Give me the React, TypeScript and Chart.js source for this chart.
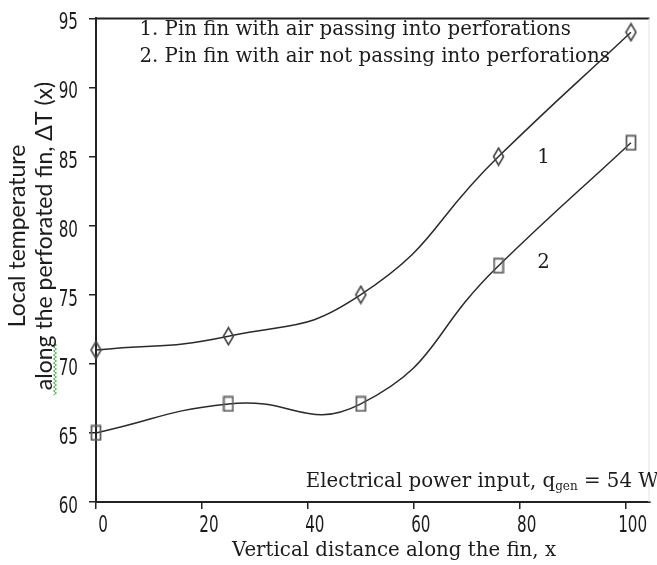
import React, { useEffect, useRef } from "react";
import { Chart, registerables } from "chart.js";

Chart.register(...registerables);

// ---- data ----
const xValues = [0, 25, 50, 76, 101];
const series1 = [71, 72, 75, 85, 94];
const series2 = [65, 67.1, 67.1, 77.1, 86];
const xTickValues = [0, 20, 40, 60, 80, 100];
const yTickValues = [60, 65, 70, 75, 80, 85, 90, 95];
const series1Name = "1. Pin fin with air passing into perforations";
const series2Name = "2. Pin fin with air not passing into perforations";
const xTitle = "Vertical distance along the fin, x";
const yTitle1 = "Local temperature";
const yTitle2 = "along the perforated fin, \u0394T (x)";
const noteMain = "Electrical power input, q";
const noteSub = "gen";
const noteEnd = " = 54 W";

const TICK_FONT = "'DejaVu Sans', sans-serif";
const SERIF = "'DejaVu Serif', 'Liberation Serif', serif";
const SANS = "Lato, 'Liberation Sans', sans-serif";
const TEXT = "#1c1c1c";

function makeDiamond() {
  const c = document.createElement("canvas");
  c.width = 13;
  c.height = 20;
  const g = c.getContext("2d")!;
  g.strokeStyle = "#444";
  g.lineWidth = 1.6;
  g.beginPath();
  g.moveTo(6.5, 1.5);
  g.lineTo(11.5, 10);
  g.lineTo(6.5, 18.5);
  g.lineTo(1.5, 10);
  g.closePath();
  g.stroke();
  return c;
}

function makeSquare() {
  const c = document.createElement("canvas");
  c.width = 12;
  c.height = 17;
  const g = c.getContext("2d")!;
  g.strokeStyle = "#5e5e5e";
  g.lineWidth = 1.8;
  g.strokeRect(1.5, 1.5, 9, 14);
  return c;
}

function condensed(ctx: any, text: string, x: number, y: number, align: string) {
  ctx.save();
  ctx.translate(x, y);
  ctx.scale(0.66, 1);
  ctx.textAlign = align;
  ctx.fillText(text, 0, 0);
  ctx.restore();
}

const annotations = {
  id: "annotations",
  afterDraw(chart: any) {
    const { ctx, chartArea, scales } = chart;
    const xs = scales.x;
    const ys = scales.y;
    ctx.save();
    // top frame line
    ctx.strokeStyle = "#222";
    ctx.lineWidth = 2;
    ctx.beginPath();
    ctx.moveTo(chartArea.left, chartArea.top);
    ctx.lineTo(chartArea.right, chartArea.top);
    ctx.stroke();
    ctx.strokeStyle = "#e2e2e2";
    ctx.lineWidth = 1;
    ctx.beginPath();
    ctx.moveTo(chartArea.right - 0.5, chartArea.top);
    ctx.lineTo(chartArea.right - 0.5, chartArea.bottom);
    ctx.stroke();

    // tick labels (condensed)
    ctx.fillStyle = TEXT;
    ctx.textBaseline = "middle";
    ctx.font = `23px ${TICK_FONT}`;
    xs.ticks.forEach((t: any) => {
      condensed(ctx, String(t.value), xs.getPixelForValue(t.value) + 7, chartArea.bottom + 24, "center");
    });
    ys.ticks.forEach((t: any) => {
      condensed(ctx, String(t.value), 78, ys.getPixelForValue(t.value) + 5, "right");
    });

    ctx.textAlign = "left";
    ctx.font = `19.8px ${SERIF}`;
    ctx.fillText(series1Name, xs.getPixelForValue(8.2), ys.getPixelForValue(94.2));
    ctx.fillText(series2Name, xs.getPixelForValue(8.2), ys.getPixelForValue(92.2));

    ctx.fillText("1", xs.getPixelForValue(83.3), ys.getPixelForValue(84.9));
    ctx.fillText("2", xs.getPixelForValue(83.3), ys.getPixelForValue(77.3));

    // electrical power note
    let px = xs.getPixelForValue(39.6);
    const py = ys.getPixelForValue(61.45);
    ctx.font = `19.8px ${SERIF}`;
    ctx.fillText(noteMain, px, py);
    px += ctx.measureText(noteMain).width;
    ctx.font = `12px ${SERIF}`;
    ctx.fillText(noteSub, px, py + 5);
    px += ctx.measureText(noteSub).width;
    ctx.font = `19.8px ${SERIF}`;
    ctx.fillText(noteEnd, px, py);

    // x title
    ctx.textAlign = "center";
    ctx.font = `19.8px ${SERIF}`;
    ctx.fillText(xTitle, 394, 551);

    // spell-check squiggle under "along"
    ctx.strokeStyle = "#3cb043";
    ctx.lineWidth = 1;
    ctx.beginPath();
    for (let yy = 343, k = 0; yy <= 395; yy += 2, k++) {
      const xx = 55 + (k % 2 === 0 ? -1.5 : 1.5);
      if (k === 0) ctx.moveTo(xx, yy);
      else ctx.lineTo(xx, yy);
    }
    ctx.stroke();

    // y titles
    ctx.fillStyle = TEXT;
    ctx.font = `23px ${SANS}`;
    ctx.translate(18, 236);
    ctx.rotate(-Math.PI / 2);
    ctx.fillText(yTitle1, 0, 0);
    ctx.fillText(yTitle2, 0, 27);
    ctx.restore();
  },
};

export default function App() {
  const ref = useRef<HTMLCanvasElement | null>(null);
  useEffect(() => {
    if (!ref.current) return;
    const diamond = makeDiamond();
    const square = makeSquare();
    const chart = new Chart(ref.current, {
      type: "line",
      data: {
        datasets: [
          {
            label: series1Name,
            data: xValues.map((x, i) => ({ x, y: series1[i] })),
            borderColor: "#2a2a2a",
            borderWidth: 1.5,
            tension: 0.5,
            pointStyle: diamond as any,
            pointRadius: 6,
            clip: false as any,
          },
          {
            label: series2Name,
            data: xValues.map((x, i) => ({ x, y: series2[i] })),
            borderColor: "#2a2a2a",
            borderWidth: 1.5,
            tension: 0.5,
            pointStyle: square as any,
            pointRadius: 6,
            clip: false as any,
          },
        ],
      },
      options: {
        animation: false,
        responsive: true,
        maintainAspectRatio: false,
        layout: { padding: { top: 17, right: 2, left: 0, bottom: 0 } },
        plugins: { legend: { display: false }, tooltip: { enabled: false } },
        scales: {
          x: {
            type: "linear",
            min: 0,
            max: 104.5,
            afterBuildTicks(s: any) {
              s.ticks = xTickValues.map((v) => ({ value: v }));
            },
            ticks: {
              maxRotation: 0,
              padding: 3,
              color: "rgba(0,0,0,0)",
              font: { family: TICK_FONT, size: 14 },
            },
            grid: { drawOnChartArea: false, tickLength: 7, color: "#222", lineWidth: 1.5 },
            border: { color: "#222", width: 2 },
            afterFit(s: any) {
              s.height = 63;
            },
          },
          y: {
            type: "linear",
            min: 60,
            max: 95,
            afterBuildTicks(s: any) {
              s.ticks = yTickValues.map((v) => ({ value: v }));
            },
            ticks: {
              padding: 10,
              color: "rgba(0,0,0,0)",
              font: { family: TICK_FONT, size: 14 },
            },
            grid: { drawOnChartArea: false, tickLength: 7, color: "#222", lineWidth: 1.5 },
            border: { color: "#222", width: 2 },
            afterFit(s: any) {
              s.width = 96;
            },
          },
        },
      },
      plugins: [annotations],
    });
    return () => chart.destroy();
  }, []);
  return (
    <div style={{ position: "fixed", left: 0, top: 0, width: 657, height: 565, background: "#fff" }}>
      <canvas ref={ref} />
    </div>
  );
}
